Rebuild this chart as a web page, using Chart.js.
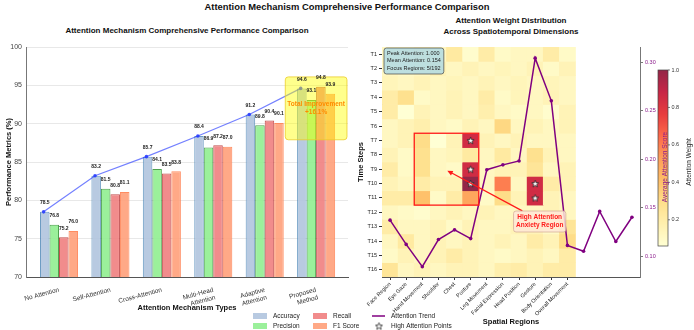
<!DOCTYPE html>
<html>
<head>
<meta charset="utf-8">
<script src="https://cdn.jsdelivr.net/npm/chart.js@4.4.0/dist/chart.umd.min.js"></script>
<style>
html, body { margin: 0; padding: 0; background: #fff; }
body { width: 694px; height: 330px; position: relative; overflow: hidden; font-family: 'Liberation Sans', Arial, sans-serif; color: #111; }
.ttl { position: absolute; font-weight: bold; text-align: center; white-space: nowrap; }
canvas { position: absolute; top: 0; }
#cL { left: 0; }
#cR { left: 350px; }
</style>
</head>
<body>
<div class="ttl" style="left:0;width:694px;top:1px;font-size:9.4px;line-height:12px;">Attention Mechanism Comprehensive Performance Comparison</div>
<div class="ttl" style="left:26px;width:322px;top:26px;font-size:8px;line-height:10px;">Attention Mechanism Comprehensive Performance Comparison</div>
<div class="ttl" style="left:382px;width:258px;top:15px;font-size:8px;line-height:11px;">Attention Weight Distribution<br>Across Spatiotemporal Dimensions</div>
<canvas id="cL" width="694" height="330"></canvas>
<canvas id="cR" width="344" height="330"></canvas>
<script>
const FONT = "'Liberation Sans', Arial, sans-serif";

// ---- left panel data
const methods = ['No Attention', 'Self-Attention', 'Cross-Attention', ['Multi-Head', 'Attention'], ['Adaptive', 'Attention'], ['Proposed', 'Method']];
const accuracy = [78.5, 83.2, 85.7, 88.4, 91.2, 94.6];
const precision = [76.8, 81.5, 84.1, 86.9, 89.8, 93.1];
const recall = [75.2, 80.8, 83.5, 87.2, 90.4, 94.8];
const f1score = [76.0, 81.1, 83.8, 87.0, 90.1, 93.9];
const perfTicks = [70, 75, 80, 85, 90, 95, 100];

// ---- right panel data
const regions = ['Face Region', 'Eye Gaze', 'Hand Movement', 'Shoulder', 'Chest', 'Posture', 'Leg Movement', 'Facial Expression', 'Head Position', 'Gesture', 'Body Orientation', 'Overall Movement'];
const timeSteps = ['T1', 'T2', 'T3', 'T4', 'T5', 'T6', 'T7', 'T8', 'T9', 'T10', 'T11', 'T12', 'T13', 'T14', 'T15', 'T16'];
const attention = [
  [0.12, 0.12, 0.15, 0.12, 0.22, 0.08, 0.20, 0.10, 0.12, 0.12, 0.20, 0.10],
  [0.12, 0.10, 0.12, 0.15, 0.12, 0.15, 0.12, 0.14, 0.12, 0.15, 0.10, 0.15],
  [0.14, 0.12, 0.15, 0.12, 0.14, 0.12, 0.15, 0.12, 0.14, 0.12, 0.14, 0.12],
  [0.20, 0.28, 0.10, 0.12, 0.15, 0.12, 0.20, 0.10, 0.14, 0.12, 0.15, 0.12],
  [0.20, 0.06, 0.15, 0.12, 0.15, 0.12, 0.18, 0.12, 0.10, 0.12, 0.08, 0.15],
  [0.12, 0.15, 0.18, 0.12, 0.10, 0.15, 0.12, 0.32, 0.12, 0.15, 0.12, 0.15],
  [0.12, 0.15, 0.30, 0.06, 0.15, 0.85, 0.15, 0.12, 0.15, 0.12, 0.12, 0.12],
  [0.15, 0.10, 0.28, 0.12, 0.14, 0.22, 0.12, 0.22, 0.12, 0.28, 0.15, 0.12],
  [0.20, 0.10, 0.28, 0.12, 0.10, 0.85, 0.12, 0.15, 0.15, 0.25, 0.12, 0.15],
  [0.15, 0.12, 0.20, 0.15, 0.15, 1.00, 0.12, 0.60, 0.12, 0.85, 0.20, 0.15],
  [0.20, 0.20, 0.40, 0.10, 0.20, 0.50, 0.10, 0.30, 0.15, 0.85, 0.15, 0.12],
  [0.12, 0.10, 0.08, 0.12, 0.15, 0.12, 0.15, 0.12, 0.12, 0.12, 0.15, 0.12],
  [0.20, 0.12, 0.12, 0.15, 0.10, 0.15, 0.12, 0.12, 0.15, 0.15, 0.10, 0.25],
  [0.12, 0.22, 0.12, 0.15, 0.12, 0.15, 0.12, 0.15, 0.12, 0.20, 0.15, 0.30],
  [0.10, 0.15, 0.12, 0.15, 0.20, 0.15, 0.12, 0.10, 0.12, 0.15, 0.12, 0.20],
  [0.25, 0.12, 0.15, 0.12, 0.15, 0.15, 0.12, 0.18, 0.20, 0.15, 0.20, 0.20]
];
const trend = [0.137, 0.112, 0.089, 0.117, 0.127, 0.118, 0.189, 0.194, 0.198, 0.304, 0.260, 0.111, 0.105, 0.146, 0.115, 0.140];
const trendTicks = [0.10, 0.15, 0.20, 0.25, 0.30];
const cbarTicks = [0.2, 0.4, 0.6, 0.8, 1.0];
const starLevel = 0.8;

// colour map (YlOrRd, alpha blended on white)
const ylorrd = [[255,255,204],[255,237,160],[254,217,118],[254,178,76],[253,141,60],[252,78,42],[227,26,28],[189,0,38],[128,0,38]];
const heatMin = 0.06, heatMax = 1.0, heatAlpha = 0.85;
function heatColor(v) {
    let t = Math.min(1, Math.max(0, (v - heatMin) / (heatMax - heatMin))) * (ylorrd.length - 1);
    const i = Math.min(Math.floor(t), ylorrd.length - 2), f = t - i;
    const c = ylorrd[i].map((a, k) => a + (ylorrd[i + 1][k] - a) * f);
    const m = c.map(a => Math.round(a * heatAlpha + 255 * (1 - heatAlpha)));
    return `rgb(${m[0]},${m[1]},${m[2]})`;
}

function starImage(size) {
    const c = document.createElement('canvas');
    c.width = c.height = size;
    const g = c.getContext('2d');
    const R = size / 2 - 0.8, r = R * 0.42;
    g.beginPath();
    for (let k = 0; k < 10; k++) {
        const a = -Math.PI / 2 + k * Math.PI / 5, rr = k % 2 ? r : R;
        g.lineTo(size / 2 + rr * Math.cos(a), size / 2 + 0.4 + rr * Math.sin(a));
    }
    g.closePath();
    g.fillStyle = '#fff';
    g.fill();
    g.lineWidth = 0.8;
    g.strokeStyle = '#222';
    g.stroke();
    return c;
}
const starImg = starImage(9);

const barStyles = [
    { label: 'Accuracy', fill: 'rgba(176,196,222,0.9)', edge: 'rgba(70,130,180,0.8)' },
    { label: 'Precision', fill: 'rgba(144,238,144,0.9)', edge: 'rgba(34,139,34,0.8)' },
    { label: 'Recall', fill: 'rgba(240,128,128,0.9)', edge: 'rgba(178,34,34,0.8)' },
    { label: 'F1 Score', fill: 'rgba(255,160,122,0.9)', edge: 'rgba(255,127,80,0.9)' }
];
const series = [accuracy, precision, recall, f1score];

// ---------------- left chart decorations
const leftDecor = {
    id: 'leftDecor',
    afterDatasetsDraw(chart) {
        const { ctx, scales: { x, y } } = chart;
        ctx.save();
        // improvement box
        const bx0 = x.getPixelForValue(4.4), bx1 = x.getPixelForValue(5.6);
        const by0 = y.getPixelForValue(96.1), by1 = y.getPixelForValue(87.9);
        ctx.beginPath();
        ctx.roundRect(bx0, by0, bx1 - bx0, by1 - by0, 3);
        ctx.fillStyle = 'rgba(255,255,0,0.45)';
        ctx.fill();
        ctx.strokeStyle = 'rgba(235,205,40,0.8)';
        ctx.lineWidth = 1;
        ctx.stroke();
        ctx.fillStyle = '#ff8c00';
        ctx.font = `bold 6.5px ${FONT}`;
        ctx.textAlign = 'center';
        ctx.textBaseline = 'middle';
        const tx = x.getPixelForValue(5), ty = y.getPixelForValue(92);
        ctx.fillText('Total Improvement', tx, ty - 4);
        ctx.fillText('+16.1%', tx, ty + 4);
        // value labels
        ctx.fillStyle = '#222';
        ctx.font = `bold 5px ${FONT}`;
        series.forEach((vals, k) => {
            chart.getDatasetMeta(k).data.forEach((el, i) => {
                ctx.fillText(vals[i].toFixed(1), el.x, el.y - 9);
            });
        });
        ctx.restore();
    },
    afterDraw(chart) {
        const ctx = chart.ctx;
        ctx.save();
        ctx.font = `6.5px ${FONT}`;
        ctx.textBaseline = 'middle';
        const cols = [253, 313], rows = [316, 326];
        barStyles.forEach((s, k) => {
            const cx = cols[Math.floor(k / 2)], cy = rows[k % 2];
            ctx.fillStyle = s.fill;
            ctx.fillRect(cx, cy - 3, 14, 6);
            ctx.fillStyle = '#222';
            ctx.fillText(s.label, cx + 20, cy);
        });
        ctx.restore();
    }
};

new Chart(document.getElementById('cL'), {
    type: 'bar',
    data: {
        datasets: [
            ...series.map((vals, k) => ({
                label: barStyles[k].label,
                data: vals.map((v, i) => ({ x: i, y: v })),
                backgroundColor: barStyles[k].fill,
                borderColor: barStyles[k].edge,
                borderWidth: 1,
                borderSkipped: false,
                categoryPercentage: 0.74,
                barPercentage: 1,
                order: 2
            })),
            {
                type: 'line',
                label: 'Accuracy trend',
                data: accuracy.map((v, i) => ({ x: i - 0.3, y: v })),
                borderColor: 'rgba(40,60,255,0.65)',
                borderWidth: 1.2,
                pointRadius: 1.8,
                pointBackgroundColor: 'rgba(40,60,255,0.9)',
                pointBorderWidth: 0,
                order: 1
            }
        ]
    },
    options: {
        responsive: false,
        animation: false,
        layout: { padding: { top: 47, right: 346, bottom: 14, left: 0 } },
        plugins: { legend: { display: false }, tooltip: { enabled: false } },
        scales: {
            x: {
                type: 'linear', min: -0.642, max: 5.62, offset: false,
                grid: { display: false, offset: false },
                border: { display: true, color: '#555' },
                afterBuildTicks: s => { s.ticks = methods.map((_, i) => ({ value: i })); },
                ticks: {
                    autoSkip: false, minRotation: 15, maxRotation: 15, padding: 1, color: '#333',
                    font: { family: FONT, size: 6.5 },
                    callback: v => methods[Math.round(v)]
                },
                title: { display: true, text: 'Attention Mechanism Types', color: '#111', font: { family: FONT, size: 7.5, weight: 'bold' }, padding: { top: 0, bottom: 4 } },
                afterFit: s => { s.height = 39; }
            },
            y: {
                min: 70, max: 100,
                afterBuildTicks: s => { s.ticks = perfTicks.map(v => ({ value: v })); },
                grid: { color: '#e8e8e8', drawTicks: false },
                border: { display: true, color: '#777' },
                ticks: { padding: 4, color: '#444', font: { family: FONT, size: 7 } },
                title: { display: true, text: 'Performance Metrics (%)', color: '#111', font: { family: FONT, size: 7.5, weight: 'bold' }, padding: { top: 4, bottom: 0 } },
                afterFit: s => { s.width = 26; }
            }
        }
    },
    plugins: [leftDecor]
});

// ---------------- right chart
const stars = [];
attention.forEach((row, r) => row.forEach((v, c) => { if (v >= starLevel) stars.push({ x: c, y: r + 0.5 }); }));

function drawBox(ctx, lines, cx, cy, lineH, fill, edge, pad) {
    let w = 0;
    lines.forEach(t => { w = Math.max(w, ctx.measureText(t).width); });
    const h = lines.length * lineH;
    ctx.beginPath();
    ctx.roundRect(cx - w / 2 - pad, cy - h / 2 - pad, w + 2 * pad, h + 2 * pad, 2.5);
    ctx.fillStyle = fill;
    ctx.fill();
    ctx.strokeStyle = edge;
    ctx.lineWidth = 0.8;
    ctx.stroke();
}

const rightDecor = {
    id: 'rightDecor',
    afterDatasetsDraw(chart) {
        const { ctx, chartArea, scales: { x, y } } = chart;
        ctx.save();
        // anxiety region rectangle
        const rx0 = x.getPixelForValue(1.5), rx1 = x.getPixelForValue(5.5);
        const ry0 = y.getPixelForValue(6), ry1 = y.getPixelForValue(11);
        ctx.strokeStyle = '#ff1a1a';
        ctx.lineWidth = 1.3;
        ctx.strokeRect(rx0, ry0, rx1 - rx0, ry1 - ry0);
        // arrow
        const ax0 = x.getPixelForValue(8.2), ay0 = y.getPixelForValue(11.4);
        const ax1 = x.getPixelForValue(3.55), ay1 = y.getPixelForValue(8.6);
        const ang = Math.atan2(ay1 - ay0, ax1 - ax0);
        ctx.strokeStyle = '#ff1a1a';
        ctx.fillStyle = '#ff1a1a';
        ctx.lineWidth = 1.3;
        ctx.beginPath();
        ctx.moveTo(ax0, ay0);
        ctx.lineTo(ax1 - 4 * Math.cos(ang), ay1 - 4 * Math.sin(ang));
        ctx.stroke();
        ctx.beginPath();
        ctx.moveTo(ax1, ay1);
        ctx.lineTo(ax1 - 5.5 * Math.cos(ang) + 2.5 * Math.sin(ang), ay1 - 5.5 * Math.sin(ang) - 2.5 * Math.cos(ang));
        ctx.lineTo(ax1 - 5.5 * Math.cos(ang) - 2.5 * Math.sin(ang), ay1 - 5.5 * Math.sin(ang) + 2.5 * Math.cos(ang));
        ctx.closePath();
        ctx.fill();
        // anxiety label
        ctx.font = `bold 6.5px ${FONT}`;
        const lx = x.getPixelForValue(9.28), ly = y.getPixelForValue(12.14);
        const lab = ['High Attention', 'Anxiety Region'];
        drawBox(ctx, lab, lx, ly, 8, 'rgba(255,232,215,0.85)', 'rgba(210,170,150,0.9)', 2.5);
        ctx.fillStyle = '#ff1a1a';
        ctx.textAlign = 'center';
        ctx.textBaseline = 'middle';
        ctx.fillText(lab[0], lx, ly - 4);
        ctx.fillText(lab[1], lx, ly + 4);
        // info box
        ctx.font = `5.5px ${FONT}`;
        const info = ['Peak Attention: 1.000', 'Mean Attention: 0.154', 'Focus Regions: 5/192'];
        let w = 0;
        info.forEach(t => { w = Math.max(w, ctx.measureText(t).width); });
        const ix = chartArea.left + 2, iy = chartArea.top + 1;
        ctx.beginPath();
        ctx.roundRect(ix, iy, w + 6, 26, 2.5);
        ctx.fillStyle = 'rgba(173,216,230,0.8)';
        ctx.fill();
        ctx.strokeStyle = '#444';
        ctx.lineWidth = 0.7;
        ctx.stroke();
        ctx.fillStyle = '#222';
        ctx.textAlign = 'left';
        info.forEach((t, i) => ctx.fillText(t, ix + 3, iy + 5 + i * 7.7));
        ctx.restore();
    },
    afterDraw(chart) {
        const ctx = chart.ctx;
        ctx.save();
        // colorbar
        const cx = 308, cw = 10, top = 70, bot = 246;
        for (let py = top; py < bot; py++) {
            const v = heatMin + (bot - py - 0.5) / (bot - top) * (heatMax - heatMin);
            ctx.fillStyle = heatColor(v);
            ctx.fillRect(cx, py, cw, 1);
        }
        ctx.strokeStyle = '#444';
        ctx.lineWidth = 0.7;
        ctx.strokeRect(cx, top, cw, bot - top);
        ctx.fillStyle = '#333';
        ctx.font = `5.5px ${FONT}`;
        ctx.textAlign = 'left';
        ctx.textBaseline = 'middle';
        cbarTicks.forEach(v => {
            const py = bot - (v - heatMin) / (heatMax - heatMin) * (bot - top);
            ctx.beginPath();
            ctx.moveTo(cx + cw, py);
            ctx.lineTo(cx + cw + 2, py);
            ctx.stroke();
            ctx.fillText(v.toFixed(1), cx + cw + 3.5, py);
        });
        // rotated labels
        ctx.textAlign = 'center';
        ctx.save();
        ctx.translate(339, 162);
        ctx.rotate(-Math.PI / 2);
        ctx.fillStyle = '#222';
        ctx.font = `6.5px ${FONT}`;
        ctx.fillText('Attention Weight', 0, 0);
        ctx.restore();
        ctx.save();
        ctx.translate(315, 167);
        ctx.rotate(-Math.PI / 2);
        ctx.fillStyle = '#8b1a8b';
        ctx.font = `6.5px ${FONT}`;
        ctx.fillText('Average Attention Score', 0, 0);
        ctx.restore();
        // legend
        ctx.font = `6.5px ${FONT}`;
        ctx.textAlign = 'left';
        ctx.strokeStyle = '#800080';
        ctx.lineWidth = 1.5;
        ctx.beginPath();
        ctx.moveTo(22, 316);
        ctx.lineTo(35, 316);
        ctx.stroke();
        ctx.fillStyle = '#222';
        ctx.fillText('Attention Trend', 41, 316);
        ctx.drawImage(starImg, 29 - 4.5, 326 - 4.5);
        ctx.fillText('High Attention Points', 41, 326);
        ctx.restore();
    }
};

new Chart(document.getElementById('cR'), {
    type: 'bar',
    data: {
        datasets: [
            {
                type: 'line',
                label: 'Attention Trend',
                data: trend.map((v, i) => ({ x: i, y: v })),
                yAxisID: 'y2',
                borderColor: '#800080',
                borderWidth: 1.5,
                pointRadius: 1.8,
                pointBackgroundColor: '#800080',
                pointBorderWidth: 0,
                order: 0
            },
            {
                type: 'scatter',
                label: 'High Attention Points',
                data: stars,
                yAxisID: 'y',
                pointStyle: starImg,
                pointRadius: 4.5,
                order: 1
            },
            ...attention.map((row, r) => ({
                label: timeSteps[r],
                data: row.map((v, c) => ({ x: c, y: [r, r + 1] })),
                backgroundColor: row.map(heatColor),
                borderWidth: 0,
                grouped: false,
                barPercentage: 1,
                categoryPercentage: 1,
                yAxisID: 'y',
                order: 2
            }))
        ]
    },
    options: {
        responsive: false,
        animation: false,
        layout: { padding: { top: 47, right: 21, bottom: 0, left: 0 } },
        plugins: { legend: { display: false }, tooltip: { enabled: false } },
        scales: {
            x: {
                type: 'linear', min: -0.5, max: 15.5, offset: false,
                grid: { display: true, drawOnChartArea: false, drawTicks: true, tickLength: 3, color: '#333', offset: false },
                border: { display: true, color: '#555' },
                afterBuildTicks: s => { s.ticks = regions.map((_, i) => ({ value: i })); },
                ticks: {
                    autoSkip: false, minRotation: 45, maxRotation: 45, padding: 1, color: '#222',
                    font: { family: FONT, size: 5.5 },
                    callback: v => regions[Math.round(v)]
                },
                title: { display: true, text: 'Spatial Regions', color: '#111', font: { family: FONT, size: 7.5, weight: 'bold' }, padding: { top: 0, bottom: 4 } },
                afterFit: s => { s.height = 53; }
            },
            y: {
                type: 'linear', position: 'left', reverse: true, min: 0, max: 16,
                grid: { display: true, drawOnChartArea: false, drawTicks: true, tickLength: 3, color: '#333' },
                border: { display: true, color: '#555' },
                afterBuildTicks: s => { s.ticks = timeSteps.map((_, i) => ({ value: i + 0.5 })); },
                ticks: {
                    autoSkip: false, padding: 2, color: '#222', font: { family: FONT, size: 5.5 },
                    callback: (v, i) => timeSteps[i]
                },
                title: { display: true, text: 'Time Steps', color: '#111', font: { family: FONT, size: 7.5, weight: 'bold' }, padding: { top: 6, bottom: 0 } },
                afterFit: s => { s.width = 32; }
            },
            y2: {
                type: 'linear', position: 'right', min: 0.0784, max: 0.3155,
                grid: { display: true, drawOnChartArea: false, drawTicks: true, tickLength: 3, color: '#777' },
                border: { display: true, color: '#777' },
                afterBuildTicks: s => { s.ticks = trendTicks.map(v => ({ value: v })); },
                ticks: { padding: 2, color: '#8b1a8b', font: { family: FONT, size: 5.5 }, callback: v => v.toFixed(2) },
                afterFit: s => { s.width = 33; }
            }
        }
    },
    plugins: [rightDecor]
});
</script>
</body>
</html>
